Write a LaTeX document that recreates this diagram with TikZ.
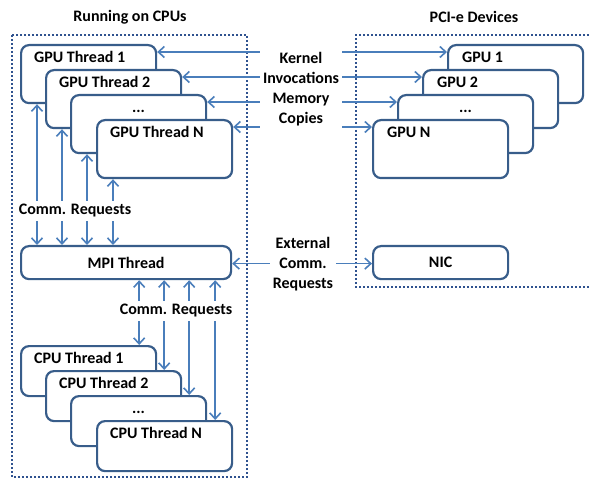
\documentclass[tikz,border=0pt]{standalone}
\usepackage{fontspec}
\setmainfont{Carlito}
\usetikzlibrary{arrows.meta}
\definecolor{arrc}{RGB}{74,126,187}
\definecolor{boxc}{RGB}{56,93,138}
\definecolor{dotc}{RGB}{47,82,143}

\begin{document}
\begin{tikzpicture}[x=1pt,y=-1pt,>={Straight Barb[length=6pt,width=11pt]},
 font=\fontsize{16}{20}\selectfont\bfseries,
 area/.style={draw=dotc,line width=2pt,dash pattern=on 2pt off 2pt},
 tbox/.style={draw=boxc,line width=2.2pt,rounded corners=8pt,fill=white,inner sep=0pt,anchor=north west,minimum width=135pt},
 gbox/.style={tbox,minimum height=58pt},
 cbox/.style={tbox,minimum height=50pt},
 lbox/.style={tbox,minimum height=33pt},
 tag/.style={inner sep=0pt,anchor=base west},
 lab/.style={fill=white,align=center,inner sep=3pt},
 arr/.style={<->,draw=arrc,line width=1.6pt}]
\useasboundingbox (0,0) rectangle (589,481);
% the two areas
\node (cputitle) at (130,17) {Running on CPUs};
\node (pcititle) at (474,17) {PCI-e Devices};
\draw[area] (12,35) rectangle (247,477);
\draw[area] (589,35) -- (356,35) -- (356,287) -- (589,287);
% GPU threads and GPUs
\foreach \i/\x/\y in {1/20/44,2/45/69,3/70/94,4/96/119} \node[gbox] (gt\i) at (\x,\y) {};
\foreach \i/\x/\y in {1/447/44,2/422/69,3/397/94,4/372/119} \node[gbox] (gpu\i) at (\x,\y) {};
\foreach \i/\t in {1/GPU Thread 1,2/GPU Thread 2,4/GPU Thread N} \node[tag] (gt\i t) at ([xshift=14pt,yshift=-19pt]gt\i.north west) {\t};
\foreach \i/\t in {1/GPU 1,2/GPU 2,4/GPU N} \node[tag] (gpu\i t) at ([xshift=15pt,yshift=-19pt]gpu\i.north west) {\t};
\node[tag,anchor=base] (gt3t) at ([yshift=-19pt]gt3.north) {...};
\node[tag,anchor=base] (gpu3t) at ([yshift=-19pt]gpu3.north) {...};
% MPI thread and NIC
\node[lbox,minimum width=210pt] (mpi) at (20,245) {MPI Thread};
\node[lbox] (nic) at (372,245) {NIC};
% CPU threads
\foreach \i/\x/\y in {1/20/345,2/45/370,3/70/395,4/96/420} \node[cbox] (ct\i) at (\x,\y) {};
\foreach \i/\t in {1/CPU Thread 1,2/CPU Thread 2,4/CPU Thread N} \node[tag] (ct\i t) at ([xshift=14pt,yshift=-18pt]ct\i.north west) {\t};
\node[tag,anchor=base] (ct3t) at ([yshift=-18pt]ct3.north) {...};
% connectors
\foreach \i in {1,...,4} {
 \draw[arr] ([yshift=-8pt]gt\i.north east) -- ([yshift=-8pt]gt\i.north east -| gpu\i.west);
 \draw[arr] ([xshift=17pt]gt\i.south west) -- ([xshift=17pt]gt\i.south west |- mpi.north);
 \draw[arr] ([xshift=-18pt]ct\i.north east |- mpi.south) -- ([xshift=-18pt]ct\i.north east);
}
\draw[arr] ([yshift=-1pt]mpi.east) -- ([yshift=-1pt]mpi.east -| nic.west);
% labels over the connectors
\node[lab] (kernel) at (301,89) {Kernel\\Invocations\\Memory\\Copies};
\node[lab] (ext) at (303,264) {External\\Comm.\\Requests};
\node[lab] (upreq) at (75,211) {Comm. Requests};
\node[lab] (loreq) at (176,311) {Comm. Requests};
\end{tikzpicture}
\end{document}
